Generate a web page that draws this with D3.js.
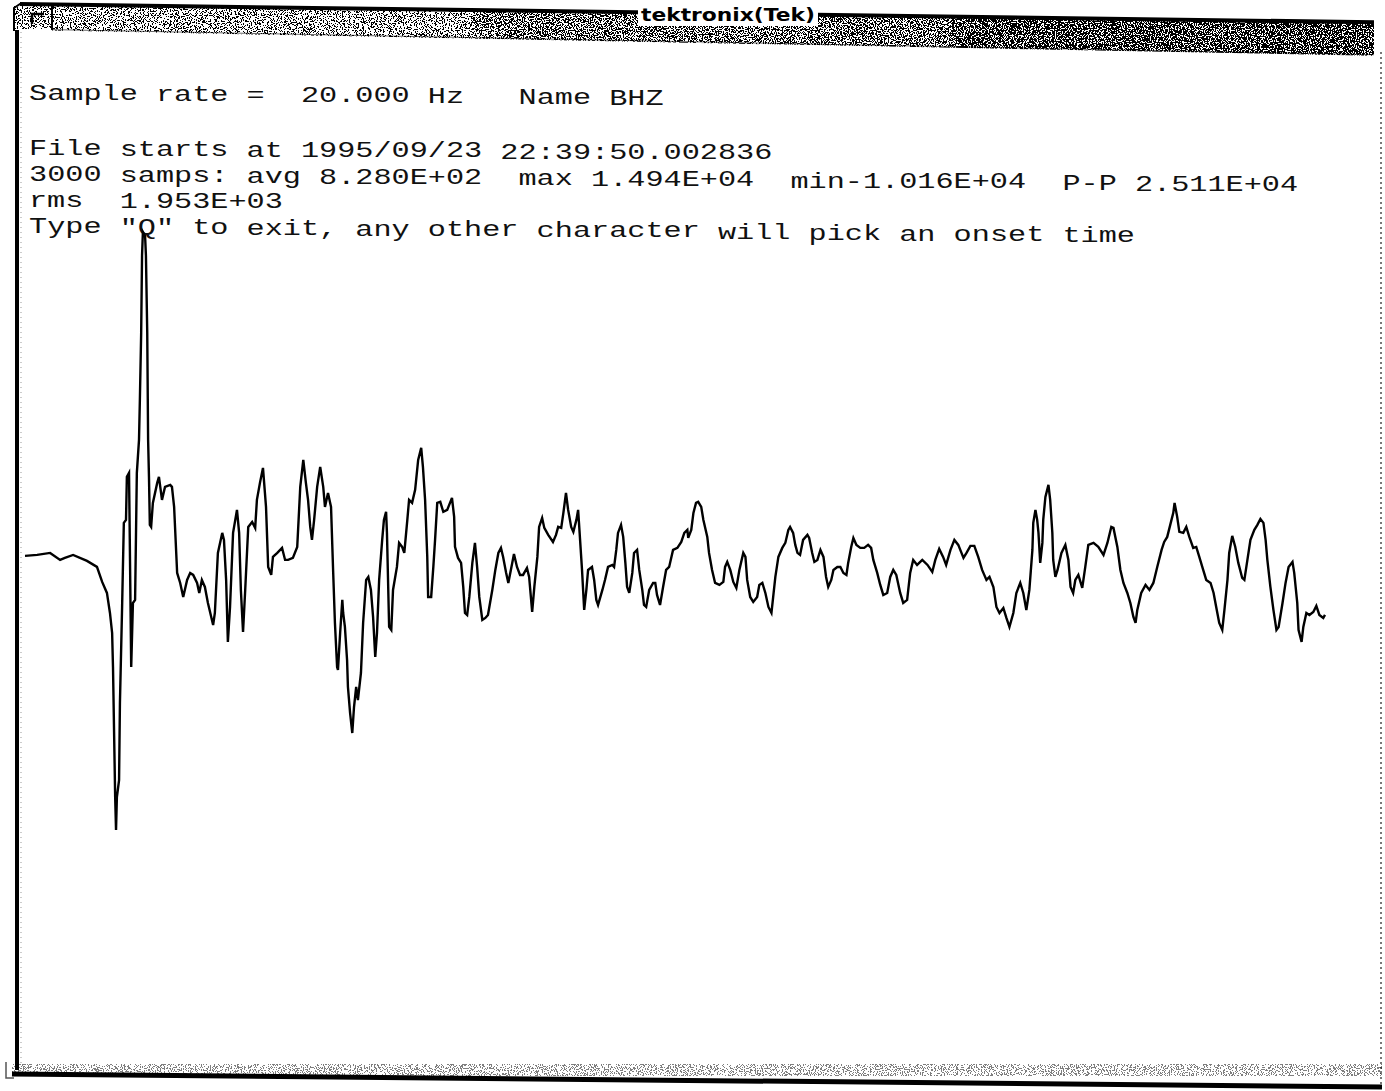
<!DOCTYPE html>
<html>
<head>
<meta charset="utf-8">
<script src="https://cdn.jsdelivr.net/npm/d3@7"></script>
<style>
  html, body { margin: 0; padding: 0; background: #fff; }
  svg { display: block; }
</style>
</head>
<body>
<script>
// ---- BHZ trace: sample index (20 Hz) and ground-motion counts ----
const sampleIndex = [
  0,28,58,81,92,111,143,166,178,189, 196,201,203,208,210,212,217,219,224,228,
  233,235,240,245,249,254,258,263,265,268, 270,272,277,279,282,284,286,288,291,295,
  305,309,316,323,335,339,344,351,358,365, 374,381,388,397,402,408,415,422,434,438,
  445,455,459,464,468,473,480,489,494,498, 503,508,515,524,531,535,542,549,556,561,
  568,572,582,593,600,607,618,628,635,642, 648,653,658,662,667,674,681,688,692,699,
  706,711,715,720,722,727,732,734,738,743, 745,750,755,759,764,768,775,780,787,792,
  798,803,808,812,817,824,828,833,835,840, 845,849,858,863,870,875,882,886,893,900,
  907,914,918,923,928,930,937,942,946,951, 958,965,974,985,990,992,999,1006,1011,1015,
  1020,1025,1032,1038,1043,1048,1055,1062,1068,1078, 1085,1092,1098,1103,1110,1115,1124,1128,1135,1142,
  1149,1158,1163,1170,1175,1182,1186,1193,1198,1207, 1218,1225,1230,1237,1242,1248,1253,1260,1265,1272,
  1276,1278,1285,1290,1295,1299,1308,1313,1318,1322, 1332,1338,1345,1355,1359,1364,1368,1375,1380,1385,
  1389,1394,1401,1405,1412,1417,1424,1428,1433,1440, 1449,1454,1458,1465,1472,1479,1486,1495,1505,1514,
  1521,1528,1530,1537,1542,1548,1553,1560,1565,1574, 1578,1585,1592,1602,1611,1615,1620,1627,1634,1641,
  1648,1657,1662,1666,1673,1680,1689,1694,1701,1708, 1715,1722,1726,1731,1738,1747,1754,1761,1765,1772,
  1777,1782,1788,1795,1805,1809,1816,1821,1828,1835, 1842,1848,1853,1860,1865,1874,1881,1888,1895,1899,
  1906,1911,1918,1927,1936,1945,1952,1957,1966,1973, 1980,1989,1996,2003,2010,2019,2026,2035,2042,2049,
  2058,2070,2082,2093,2100,2109,2118,2125,2135,2144, 2153,2165,2172,2181,2190,2199,2208,2218,2225,2234,
  2241,2248,2257,2264,2271,2280,2287,2296,2303,2310, 2317,2324,2326,2331,2335,2338,2342,2347,2349,2354,
  2361,2365,2370,2372,2377,2382,2391,2400,2407,2412, 2418,2423,2430,2439,2446,2453,2465,2476,2488,2497,
  2506,2511,2520,2527,2534,2543,2550,2557,2562,2566, 2575,2585,2594,2603,2612,2622,2628,2635,2642,2649,
  2652,2658,2663,2672,2679,2686,2695,2702,2709,2718, 2725,2735,2742,2748,2755,2762,2767,2774,2778,2785,
  2792,2799,2808,2813,2820,2827,2836,2843,2850,2857, 2862,2866,2873,2880,2887,2892,2901,2908,2915,2924,
  2928,2935,2938,2945,2949,2956,2963,2972,2979,2986,2995,2999
];
const counts = [
  1344,1386,1470,1176,1260,1386,1134,882,252,-210, -1050,-1890,-3318,-8778,-10160,-8778,-8064,-4830,-798,2730,
  2856,4662,4830,-3318,-630,-504,4830,6216,7896,10710, 13944,14940,14784,13944,10710,6216,4662,2646,2562,3570,
  4410,4662,3696,4242,4326,4242,3402,630,210,-378, 336,630,546,210,-210,336,42,-630,-1554,-1050,
  1470,2310,2016,336,-2268,-798,2310,3276,2310,-84, -1848,-84,2562,2772,2520,3696,4410,5040,3402,882,
  546,1302,1470,1680,1176,1176,1260,1722,4242,5376, 4410,3696,2562,2016,2856,4242,5082,4242,3402,3990,
  3402,630,-1470,-3318,-3444,-1890,-504,-1050,-1638,-3024, -4158,-5250,-6090,-4998,-4158,-4704,-3570,-1470,336,462,
  -84,-1218,-2898,-1890,336,2016,2856,3192,2310,-1638, -1764,-84,882,1890,1722,1470,2856,3696,3570,4116,
  5376,5880,5082,3696,1302,-378,-378,882,2016,3570, 3612,3192,3276,3780,2982,1722,1260,1050,42,-1050,
  -1134,-378,1050,1890,882,-378,-1344,-1260,-1134,-84, 756,1470,1680,1302,630,210,1050,1428,882,546,
  546,840,462,-1008,42,1302,2562,2940,2520,2226, 1932,2226,2562,2520,3150,3990,3276,2562,2352,2856,
  3276,2730,756,-924,-84,756,882,336,-504,-714, -84,336,882,966,882,1596,2310,2646,2142,1050,
  42,-210,630,1470,1596,756,-84,-714,-798,-84, 210,210,-294,-714,42,756,882,1596,1680,1932,
  2310,2436,2100,2436,3150,3570,3612,3402,2856,2142, 1470,756,210,126,252,882,1092,756,252,0,
  756,1470,1302,336,-378,-588,-378,126,210,-210, -798,-1050,-378,462,1302,1680,1890,2436,2562,2310,
  1806,1470,1386,2016,2226,2100,1470,1092,1176,1596, 1302,462,42,336,756,882,882,630,546,1050,
  1722,2100,1806,1680,1680,1806,1680,1176,630,126, -294,-210,462,756,546,-210,-630,-504,630,1176,
  966,1176,966,672,1176,1638,1302,966,1596,2016, 1806,1260,1470,1764,1764,1302,756,336,462,42,
  -798,-1050,-840,-1260,-1638,-1050,-210,210,-210,-924, -84,1596,2730,3276,2856,2310,1050,1890,2856,3822,
  4326,3696,2310,1176,462,756,1470,1806,1176,42, -210,336,546,0,882,1806,1890,1722,1386,1890,
  2562,2520,1722,756,210,-210,-630,-1218,-1470,-924, -210,126,-84,210,882,1596,1932,2142,2646,3150,
  3570,2982,2352,2310,2562,2142,1680,1722,1302,756, 336,210,-210,-798,-1470,-1764,-924,336,1470,2184,
  1722,1050,420,336,1176,2016,2436,2646,2898,2730, 2016,1176,42,-924,-1764,-1638,-630,210,882,1092,
  630,-630,-1764,-2268,-1638,-1050,-1134,-1008,-756,-1134,-1260,-1134
];

// ---- header text of the pick window ----
const windowTitle = "tektronix(Tek)";
const headerLines = [
  "Sample rate =  20.000 Hz   Name BHZ",
  "File starts at 1995/09/23 22:39:50.002836",
  "3000 samps: avg 8.280E+02  max 1.494E+04  min-1.016E+04  P-P 2.511E+04",
  "rms  1.953E+03",
  "Type \"Q\" to exit, any other character will pick an onset time"
];
const sampleCount = 3000;

const W = 1385, H = 1091;
const svg = d3.select("body").append("svg")
  .attr("width", W).attr("height", H)
  .attr("viewBox", `0 0 ${W} ${H}`);
const defs = svg.append("defs");

// stipple texture for the window decorations
function grain(id, seed, table) {
  const f = defs.append("filter").attr("id", id)
    .attr("x", 0).attr("y", 0).attr("width", 1).attr("height", 1);
  f.append("feTurbulence").attr("type", "fractalNoise")
    .attr("baseFrequency", 0.85).attr("numOctaves", 2).attr("seed", seed);
  f.append("feColorMatrix").attr("type", "matrix")
    .attr("values", "0 0 0 0 0  0 0 0 0 0  0 0 0 0 0  1 0 0 0 0");
  f.append("feComponentTransfer").append("feFuncA")
    .attr("type", "discrete").attr("tableValues", table);
}
grain("grainLight", 4, "0 0 0 0 0 0 0 0 0 0 0 1 1 1 1 1 1 1 1 1");
grain("grainMid",   9, "0 0 0 0 0 0 0 0 0 0 1 1 1 1 1 1 1 1 1 1");
grain("grainDark", 13, "0 0 0 0 0 0 0 0 0 1 1 1 1 1 1 1 1 1 1 1");

// ---- window frame ----
const frame = svg.append("g");
const barTop = x => 5 + (x - 20) * 0.0135;
const barBot = x => 30 + (x - 20) * 0.019;
const clip = defs.append("clipPath").attr("id", "titleClip");
clip.append("path").attr("d",
  `M52,${barTop(52)} L1374,${barTop(1374)} L1374,${barBot(1374)} L52,${barBot(52)} Z`);
const bar = frame.append("g").attr("clip-path", "url(#titleClip)");
bar.append("rect").attr("x", 52).attr("y", 0).attr("width", 420).attr("height", 70)
  .attr("filter", "url(#grainLight)");
bar.append("rect").attr("x", 472).attr("y", 0).attr("width", 480).attr("height", 70)
  .attr("filter", "url(#grainMid)");
bar.append("rect").attr("x", 952).attr("y", 0).attr("width", 422).attr("height", 70)
  .attr("filter", "url(#grainDark)");

// top edge
frame.append("path").attr("d", `M20,${barTop(20) - 1} L1374,${barTop(1374) - 1}`)
  .attr("stroke", "#000").attr("stroke-width", 4).attr("fill", "none");
frame.append("path").attr("d", `M52,${barBot(52) - 1} L1374,${barBot(1374) - 1}`)
  .attr("stroke", "#000").attr("stroke-width", 1).attr("fill", "none").attr("opacity", 0.6);

// title label on its own light patch
frame.append("rect").attr("x", 638).attr("y", 4)
  .attr("width", 180).attr("height", 22).attr("fill", "#fff");
frame.append("text").attr("x", 641).attr("y", 21)
  .attr("textLength", 174).attr("lengthAdjust", "spacingAndGlyphs")
  .attr("font-family", "DejaVu Sans, sans-serif").attr("font-weight", "bold")
  .attr("font-size", 17).attr("fill", "#000")
  .text(windowTitle);

// window-menu button
frame.append("rect").attr("x", 14).attr("y", 5).attr("width", 38).attr("height", 24)
  .attr("filter", "url(#grainLight)");
frame.append("path").attr("d", "M14,31 L14,8 L20,4 L52,4 L52,30")
  .attr("stroke", "#000").attr("stroke-width", 2).attr("fill", "none");
frame.append("path").attr("d", "M32,24 L32,14 L44,14")
  .attr("stroke", "#000").attr("stroke-width", 2.5).attr("fill", "none");

// left, right and bottom edges
frame.append("rect").attr("x", 15).attr("y", 30).attr("width", 4).attr("height", 1040).attr("fill", "#000");
frame.append("line").attr("x1", 21).attr("x2", 21).attr("y1", 32).attr("y2", 1066)
  .attr("stroke", "#999").attr("stroke-width", 1).attr("stroke-dasharray", "1 4");
frame.append("line").attr("x1", 1381).attr("x2", 1381).attr("y1", 52).attr("y2", 1084)
  .attr("stroke", "#777").attr("stroke-width", 2).attr("stroke-dasharray", "2 3");
frame.append("rect").attr("x", 12).attr("y", 1064).attr("width", 1370).attr("height", 12)
  .attr("filter", "url(#grainLight)").attr("opacity", 0.5);
frame.append("path").attr("d", "M12,1074 L1382,1087")
  .attr("stroke", "#000").attr("stroke-width", 5).attr("fill", "none");
frame.append("path").attr("d", "M6,1062 L6,1078 L14,1078")
  .attr("stroke", "#555").attr("stroke-width", 1.5).attr("fill", "none");

// ---- header text: fixed-pitch cells, each word placed on its column,
// the lines running slightly downhill to the right like the display ----
const advance = 18.13, x0 = 29, slope = 0.0087;
const baselines = [100, 155, 181, 207, 233];
const words = [];
headerLines.forEach((line, row) => {
  const re = /\S+/g;
  let m;
  while ((m = re.exec(line)) !== null) {
    words.push({ text: m[0], col: m.index, row });
  }
});
svg.append("g").selectAll("text").data(words).join("text")
  .attr("x", d => x0 + d.col * advance)
  .attr("y", d => baselines[d.row] + d.col * advance * slope)
  .attr("textLength", d => d.text.length * advance)
  .attr("lengthAdjust", "spacingAndGlyphs")
  .attr("font-family", "Liberation Mono, DejaVu Sans Mono, monospace")
  .attr("font-size", 22.6)
  .attr("fill", "#111")
  .text(d => d.text);

// ---- seismogram ----
const x = d3.scaleLinear().domain([0, sampleCount - 1]).range([25, 1325]);
const y = d3.scaleLinear().domain([d3.min(counts), d3.max(counts)]).range([830, 232]);
const trace = d3.range(Math.min(sampleIndex.length, counts.length))
  .map(i => [sampleIndex[i], counts[i]]);
svg.append("path")
  .datum(trace)
  .attr("fill", "none")
  .attr("stroke", "#000")
  .attr("stroke-width", 2.4)
  .attr("stroke-linejoin", "miter")
  .attr("d", d3.line().x(d => x(d[0])).y(d => y(d[1])));
</script>
</body>
</html>
